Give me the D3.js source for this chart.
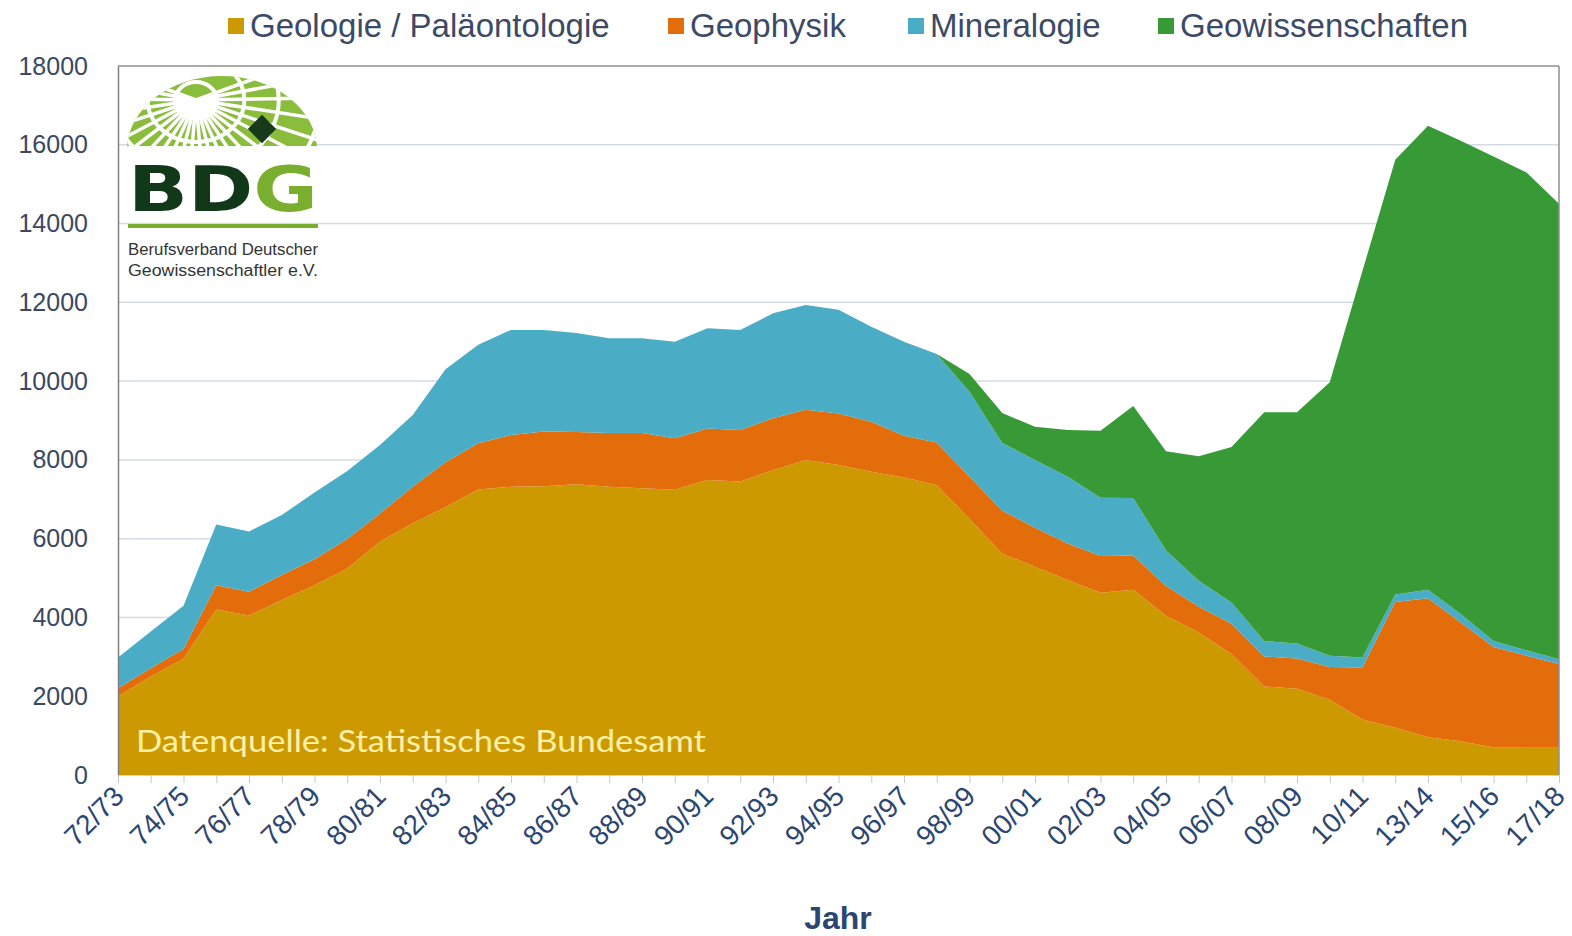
<!DOCTYPE html>
<html>
<head>
<meta charset="utf-8">
<script src="https://cdn.jsdelivr.net/npm/d3@7"></script>
<style>
html,body{margin:0;padding:0;background:#fff;}
svg{display:block;}
</style>
</head>
<body>
<svg id="chart" width="1572" height="936"></svg>
<script>
const categories = ["72/73","73/74","74/75","75/76","76/77","77/78","78/79","79/80","80/81","81/82",
"82/83","83/84","84/85","85/86","86/87","87/88","88/89","89/90","90/91","91/92",
"92/93","93/94","94/95","95/96","96/97","97/98","98/99","99/00","00/01","01/02",
"02/03","03/04","04/05","05/06","06/07","07/08","08/09","09/10","10/11","11/12",
"13/14","14/15","15/16","16/17","17/18"];

const geologie = [2000,2500,2950,4200,4050,4440,4820,5240,5930,6390,
6800,7250,7320,7330,7380,7320,7280,7240,7490,7450,
7740,8000,7870,7700,7550,7360,6500,5620,5290,4950,
4630,4700,4040,3620,3070,2250,2190,1910,1410,1200,
960,860,700,690,690];
const geophysik = [200,210,250,620,600,640,660,750,710,930,
1140,1170,1310,1390,1330,1360,1400,1310,1310,1310,
1320,1270,1310,1270,1060,1080,1070,1090,990,930,
930,870,760,650,770,760,770,835,1320,3190,
3530,3010,2550,2340,2130];
const mineralogie = [780,930,1100,1540,1530,1520,1690,1730,1740,1820,
2360,2500,2670,2580,2510,2410,2410,2450,2540,2540,
2660,2660,2630,2410,2390,2250,2160,1720,1720,1690,
1480,1460,900,660,540,390,380,285,255,195,
210,220,150,135,120];
const geowissenschaften = [0,0,0,0,0,0,0,0,0,0,
0,0,0,0,0,0,0,0,0,0,
0,0,0,0,0,0,450,760,840,1190,
1700,2340,2520,3160,3950,5810,5870,6940,9815,11035,
11780,12010,12300,12135,11560];

const seriesNames = ["Geologie / Paläontologie","Geophysik","Mineralogie","Geowissenschaften"];
const seriesColors = ["#CC9A00","#E36C0B","#4BACC6","#379A37"];
const yTicks = [0,2000,4000,6000,8000,10000,12000,14000,16000,18000];

(function(){
const table = categories.map((c,i)=>({cat:c, s0:geologie[i], s1:geophysik[i], s2:mineralogie[i], s3:geowissenschaften[i]}));
const keys = ["s0","s1","s2","s3"];

const svg = d3.select("#chart");
const pLeft = 118, pRight = 1559, pTop = 66, pBottom = 775;

const x = d3.scalePoint().domain(categories).range([pLeft, pRight]);
const y = d3.scaleLinear().domain([0,18000]).range([pBottom, pTop]);

// gridlines
svg.append("g").selectAll("line").data(yTicks.filter(v=>v>0 && v<18000)).join("line")
  .attr("x1", pLeft).attr("x2", pRight)
  .attr("y1", d=>y(d)).attr("y2", d=>y(d))
  .attr("stroke", "#d5dbe5").attr("stroke-width", 1.5);

// stacked areas
const stacked = d3.stack().keys(keys)(table);
const area = d3.area()
  .x(d=>x(d.data.cat))
  .y0(d=>y(d[0]))
  .y1(d=>y(d[1]));
svg.append("g").selectAll("path").data(stacked).join("path")
  .attr("d", area)
  .attr("fill", (d,i)=>seriesColors[i]);

// plot frame (top and right)
svg.append("line").attr("x1", pLeft).attr("x2", pRight).attr("y1", y(18000)).attr("y2", y(18000))
  .attr("stroke", "#8f8f8f").attr("stroke-width", 1.5);
svg.append("line").attr("x1", pRight).attr("x2", pRight).attr("y1", y(18000)).attr("y2", pBottom)
  .attr("stroke", "#8f8f8f").attr("stroke-width", 1.5);

// y axis
const yAxis = d3.axisLeft(y).tickValues(yTicks).tickSize(0).tickPadding(30).tickFormat(d3.format("d"));
const yg = svg.append("g").attr("transform", `translate(${pLeft},0)`).call(yAxis);
yg.select(".domain").attr("stroke", "#7f7f7f").attr("stroke-width", 1.5);
yg.selectAll("text").attr("font-family", "Liberation Sans, Arial, sans-serif")
  .attr("font-size", 25).attr("fill", "#3a4862");

// x axis
const xAxis = d3.axisBottom(x).tickSize(8).tickPadding(4)
  .tickFormat((d,i)=> i%2===0 ? d : "");
const xg = svg.append("g").attr("transform", `translate(0,${pBottom})`).call(xAxis);
xg.select(".domain").attr("stroke", "#d0d0d0").attr("stroke-width", 1);
xg.selectAll(".tick line").attr("stroke", "#c8c8c8");
xg.selectAll(".tick text")
  .attr("font-family", "Liberation Sans, Arial, sans-serif")
  .attr("font-size", 28).attr("fill", "#2d4670")
  .attr("text-anchor", "end")
  .attr("dy", null).attr("y", 0)
  .attr("transform", "translate(7,23) rotate(-45)");

// x title
svg.append("text").attr("x", 838).attr("y", 929).attr("text-anchor", "middle")
  .attr("font-family", "Liberation Sans, Arial, sans-serif").attr("font-weight", "bold")
  .attr("font-size", 32).attr("fill", "#2a4673").text("Jahr");

// legend
const legendX = [228, 668, 908, 1158];
const lg = svg.append("g");
seriesNames.forEach((n,i)=>{
  lg.append("rect").attr("x", legendX[i]).attr("y", 18).attr("width", 16).attr("height", 16).attr("fill", seriesColors[i]);
  lg.append("text").attr("x", legendX[i]+22).attr("y", 37)
    .attr("font-family", "Liberation Sans, Arial, sans-serif").attr("font-size", 33)
    .attr("fill", "#3c4a66").text(n);
});

// source note
svg.append("text").attr("x", 136).attr("y", 752)
  .attr("font-family", "Lato, 'Open Sans', sans-serif").attr("font-size", 31)
  .attr("fill", "#fdf0a8").attr("textLength", 570).attr("lengthAdjust", "spacingAndGlyphs")
  .text("Datenquelle: Statistisches Bundesamt");

// BDG logo
const logo = svg.append("g");
const cx = 222, cy = 150, rx = 95, ry = 74;
const defs = svg.append("defs");
defs.append("clipPath").attr("id", "dome").append("path")
  .attr("d", `M${cx-rx},${cy} A${rx},${ry} 0 0 1 ${cx+rx},${cy} Z`);
const dome = logo.append("g").attr("clip-path", "url(#dome)");
dome.append("rect").attr("x", cx-rx).attr("y", cy-ry).attr("width", 2*rx).attr("height", ry).attr("fill", "#8bbd3c");
const fx = 196, fy = 100;
[18, 42, 72, 108, 150].forEach(r=>{
  dome.append("ellipse").attr("cx", fx).attr("cy", fy).attr("rx", r*1.15).attr("ry", r)
    .attr("fill", "none").attr("stroke", "#fff").attr("stroke-width", 4);
});
d3.range(0, 24).forEach(k=>{
  const ang = -0.35 + k*(Math.PI+0.7)/23;
  dome.append("line").attr("x1", fx).attr("y1", fy)
    .attr("x2", fx + Math.cos(ang)*260).attr("y2", fy + Math.sin(ang)*260)
    .attr("stroke", "#fff").attr("stroke-width", 3.5);
});
dome.append("rect").attr("x", cx-rx).attr("y", cy-4).attr("width", 2*rx).attr("height", 4).attr("fill", "#fff");
logo.append("rect").attr("x", 252).attr("y", 119).attr("width", 20).attr("height", 20)
  .attr("transform", "rotate(45 262 129)").attr("fill", "#163a1a");
const bdg = logo.append("text").attr("x", 128).attr("y", 211)
  .attr("font-family", "DejaVu Sans, sans-serif").attr("font-weight", "bold").attr("font-size", 62)
  .attr("textLength", 190).attr("lengthAdjust", "spacingAndGlyphs");
bdg.append("tspan").attr("fill", "#12381a").text("BD");
bdg.append("tspan").attr("fill", "#7aae2e").text("G");
logo.append("rect").attr("x", 128).attr("y", 224).attr("width", 190).attr("height", 4).attr("fill", "#7aae2e");
logo.append("text").attr("x", 128).attr("y", 255)
  .attr("font-family", "Liberation Sans Narrow, Liberation Sans, Arial, sans-serif").attr("font-size", 16)
  .attr("fill", "#333").attr("textLength", 190).attr("lengthAdjust", "spacingAndGlyphs")
  .text("Berufsverband Deutscher");
logo.append("text").attr("x", 128).attr("y", 276)
  .attr("font-family", "Liberation Sans Narrow, Liberation Sans, Arial, sans-serif").attr("font-size", 16)
  .attr("fill", "#333").attr("textLength", 190).attr("lengthAdjust", "spacingAndGlyphs")
  .text("Geowissenschaftler e.V.");
})();
</script>
</body>
</html>
